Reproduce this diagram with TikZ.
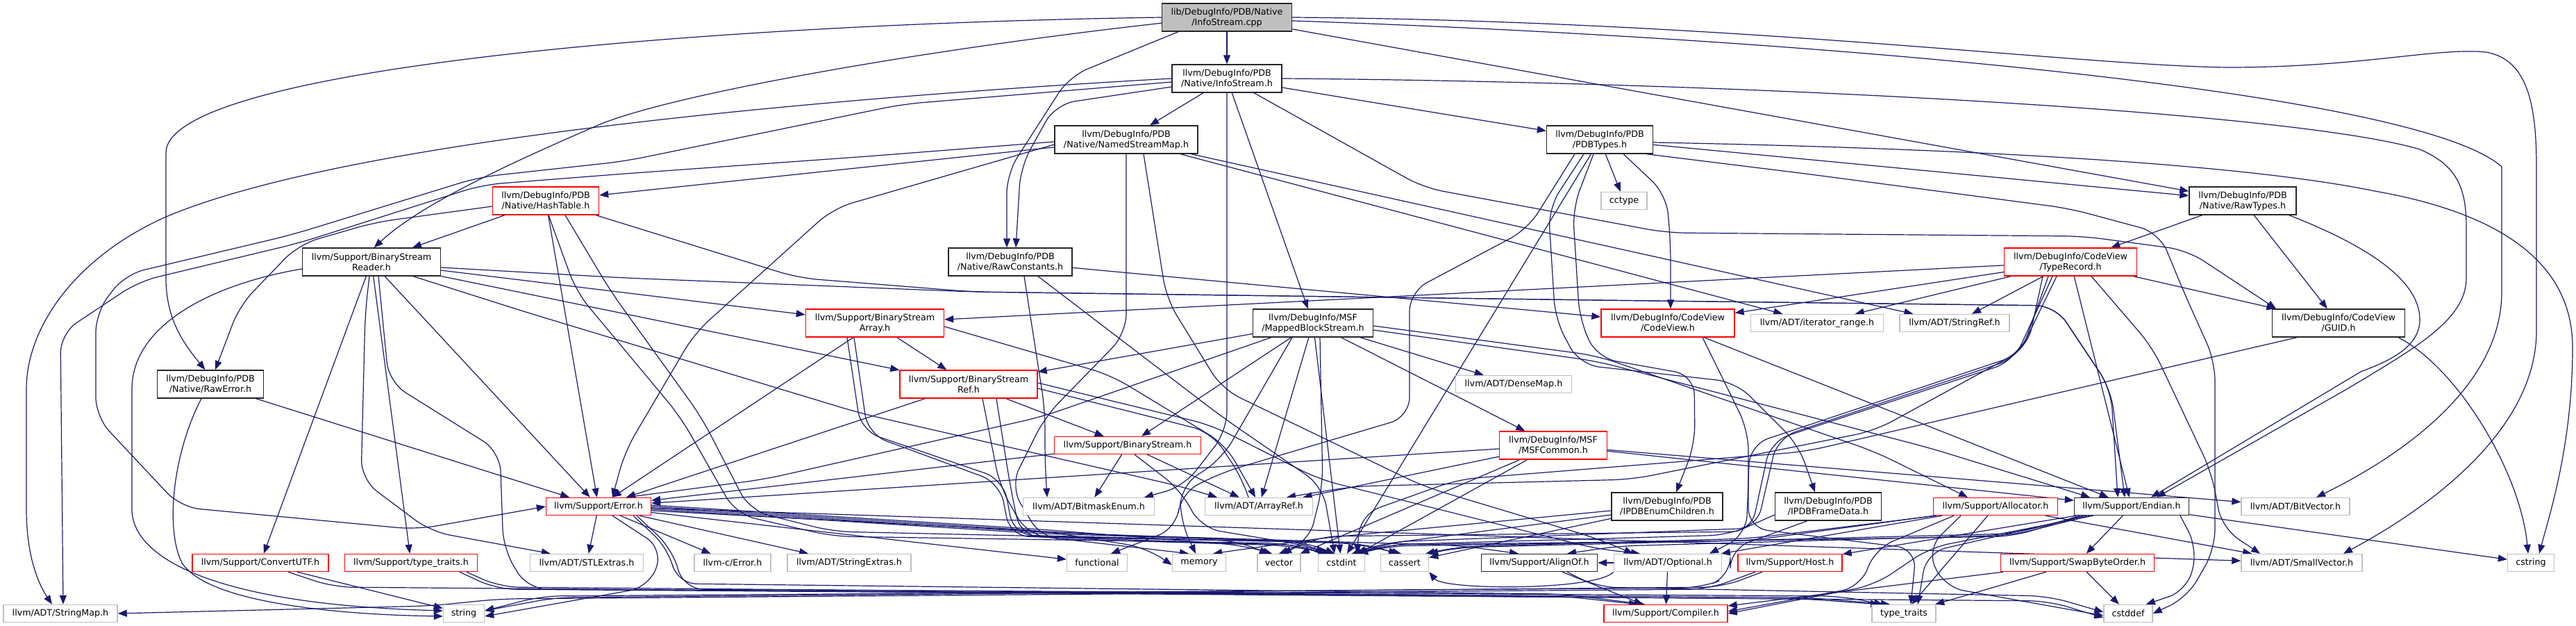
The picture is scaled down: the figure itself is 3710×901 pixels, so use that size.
\documentclass[tikz,border=0pt]{standalone}
\usepackage{fontspec}
\setmainfont{DejaVu Sans}
\usetikzlibrary{arrows.meta}
\definecolor{navy}{RGB}{25,25,112}
\definecolor{boxred}{RGB}{255,0,0}
\definecolor{boxgray}{RGB}{191,191,191}
\pgfdeclarelayer{bg}
\pgfsetlayers{bg,main}
\begin{document}
\begin{tikzpicture}[x=1pt,y=-1pt,
  base/.style={draw, fill=white, line width=1.4pt, align=center, inner sep=0pt, font=\fontsize{12.7}{15}\selectfont},
  two/.style={minimum height=40pt},
  one/.style={minimum height=25pt},
  doc/.style={base, draw=black!85},
  trn/.style={base, draw=boxred},
  ext/.style={base, draw=boxgray},
  topnode/.style={base, draw=black!85, fill=boxgray},
  edg/.style={draw=navy, line width=1.2pt, -{Triangle[length=13pt,width=10pt]}},
  rt/.style={edg, rounded corners=28pt}]
\useasboundingbox (0,0) rectangle (3710,901);
% rank 1-4
\node[topnode,two,minimum width=187pt] (root) at (1767,25) {lib/DebugInfo/PDB/Native\\/InfoStream.cpp};
\node[doc,two,minimum width=158pt] (infoh) at (1767,113) {llvm/DebugInfo/PDB\\/Native/InfoStream.h};
\node[doc,two,minimum width=206pt] (nsm) at (1622,201) {llvm/DebugInfo/PDB\\/Native/NamedStreamMap.h};
\node[doc,two,minimum width=153pt] (pdbtypes) at (2304,201) {llvm/DebugInfo/PDB\\/PDBTypes.h};
\node[trn,two,minimum width=153pt] (hashtable) at (786,289) {llvm/DebugInfo/PDB\\/Native/HashTable.h};
\node[ext,one,minimum width=66pt] (cctype) at (2339,289) {cctype};
\node[doc,two,minimum width=154pt] (rawtypes) at (3230,289) {llvm/DebugInfo/PDB\\/Native/RawTypes.h};
% rank 5
\node[doc,two,minimum width=199pt] (bsreader) at (535,377) {llvm/Support/BinaryStream\\Reader.h};
\node[doc,two,minimum width=178pt] (rawconst) at (1455,377) {llvm/DebugInfo/PDB\\/Native/RawConstants.h};
\node[trn,two,minimum width=191pt] (typerecord) at (2982,377) {llvm/DebugInfo/CodeView\\/TypeRecord.h};
% rank 6
\node[trn,two,minimum width=199pt] (bsarray) at (1260,465) {llvm/Support/BinaryStream\\Array.h};
\node[doc,two,minimum width=173pt] (mbs) at (1891,465) {llvm/DebugInfo/MSF\\/MappedBlockStream.h};
\node[trn,two,minimum width=192pt] (codeview) at (2402,465) {llvm/DebugInfo/CodeView\\/CodeView.h};
\node[ext,one,minimum width=191pt] (iterrange) at (2617,465) {llvm/ADT/iterator\_range.h};
\node[ext,one,minimum width=158pt] (stringref) at (2815,465) {llvm/ADT/StringRef.h};
\node[doc,two,minimum width=191pt] (guid) at (3368,465) {llvm/DebugInfo/CodeView\\/GUID.h};
% rank 7
\node[doc,two,minimum width=153pt] (rawerror) at (303,553) {llvm/DebugInfo/PDB\\/Native/RawError.h};
\node[trn,two,minimum width=198pt] (bsref) at (1395,553) {llvm/Support/BinaryStream\\Ref.h};
\node[ext,one,minimum width=167pt] (densemap) at (2180,553) {llvm/ADT/DenseMap.h};
% rank 8
\node[trn,one,minimum width=211pt] (bstream) at (1624,641) {llvm/Support/BinaryStream.h};
\node[trn,two,minimum width=155pt] (msfcommon) at (2237,641) {llvm/DebugInfo/MSF\\/MSFCommon.h};
% rank 9
\node[trn,one,minimum width=151pt] (error) at (862,729) {llvm/Support/Error.h};
\node[ext,one,minimum width=189pt] (bitmask) at (1568,729) {llvm/ADT/BitmaskEnum.h};
\node[ext,one,minimum width=155pt] (arrayref) at (1813,729) {llvm/ADT/ArrayRef.h};
\node[doc,two,minimum width=160pt] (enumch) at (2401,729) {llvm/DebugInfo/PDB\\/IPDBEnumChildren.h};
\node[doc,two,minimum width=153pt] (framedata) at (2633,729) {llvm/DebugInfo/PDB\\/IPDBFrameData.h};
\node[trn,one,minimum width=179pt] (allocator) at (2874,729) {llvm/Support/Allocator.h};
\node[doc,one,minimum width=165pt] (endian) at (3070,729) {llvm/Support/Endian.h};
\node[ext,one,minimum width=156pt] (bitvector) at (3306,729) {llvm/ADT/BitVector.h};
% rank 10
\node[trn,one,minimum width=196pt] (convertutf) at (375,810) {llvm/Support/ConvertUTF.h};
\node[trn,one,minimum width=191pt] (typetraitsh) at (592,810) {llvm/Support/type\_traits.h};
\node[ext,one,minimum width=163pt] (stlextras) at (845,810) {llvm/ADT/STLExtras.h};
\node[ext,one,minimum width=110pt] (cerror) at (1055,810) {llvm-c/Error.h};
\node[ext,one,minimum width=178pt] (strextras) at (1223,810) {llvm/ADT/StringExtras.h};
\node[ext,one,minimum width=87pt] (functional) at (1580,810) {functional};
\node[ext,one,minimum width=77pt] (memory) at (1727,810) {memory};
\node[ext,one,minimum width=62pt] (vector) at (1842,810) {vector};
\node[ext,one,minimum width=67pt] (cstdint) at (1932,810) {cstdint};
\node[ext,one,minimum width=69pt] (cassert) at (2023,810) {cassert};
\node[doc,one,minimum width=167pt] (alignof) at (2217,810) {llvm/Support/AlignOf.h};
\node[ext,one,minimum width=155pt] (optional) at (2402,810) {llvm/ADT/Optional.h};
\node[trn,one,minimum width=150pt] (host) at (2578,810) {llvm/Support/Host.h};
\node[trn,one,minimum width=221pt] (swap) at (2992,810) {llvm/Support/SwapByteOrder.h};
\node[ext,one,minimum width=174pt] (smallvector) at (3315,810) {llvm/ADT/SmallVector.h};
\node[ext,one,minimum width=67pt] (cstring) at (3645,810) {cstring};
% rank 11
\node[ext,one,minimum width=164pt] (stringmap) at (87,883) {llvm/ADT/StringMap.h};
\node[ext,one,minimum width=59pt] (string) at (668,883) {string};
\node[trn,one,minimum width=178pt] (compiler) at (2399,883) {llvm/Support/Compiler.h};
\node[ext,one,minimum width=92pt] (typetraits) at (2742,883) {type\_traits};
\node[ext,one,minimum width=70pt] (cstddef) at (3065,883) {cstddef};

\begin{pgfonlayer}{bg}
% direct connectors
\foreach \a/\b in {root/infoh, root/rawtypes,
  infoh/mbs, infoh/nsm, infoh/pdbtypes,
  nsm/stringref, nsm/iterrange, nsm/hashtable,
  hashtable/bsreader, hashtable/error,
  pdbtypes/rawtypes, pdbtypes/cctype, pdbtypes/cstdint,
  rawtypes/guid, rawtypes/typerecord,
  bsreader/bsarray, bsreader/bsref, bsreader/convertutf, bsreader/error, bsreader/typetraitsh,
  rawconst/codeview,
  typerecord/stringref, typerecord/iterrange, typerecord/codeview, typerecord/guid, typerecord/bsarray, typerecord/endian,
  bsarray/bsref, bsarray/error,
  mbs/arrayref, mbs/densemap, mbs/msfcommon, mbs/bstream, mbs/bsref, mbs/cstdint,
  codeview/endian, rawerror/error,
  bsref/bstream, bsref/error,
  bstream/arrayref, bstream/bitmask, bstream/error,
  msfcommon/arrayref, msfcommon/bitvector, msfcommon/endian, msfcommon/error, msfcommon/cstdint, msfcommon/vector,
  error/cerror, error/stlextras, error/strextras, error/smallvector, error/functional,
  alignof/compiler,
  allocator/optional, allocator/smallvector, allocator/typetraits,
  endian/host, endian/swap, endian/cstring,
  swap/compiler, swap/cstddef, swap/typetraits,
  optional/alignof, optional/compiler,
  convertutf/string, enumch/cassert}
  \draw[edg] (\a) -- (\b);
% root
\draw[rt] ([xshift=-70pt]root.south) -- (1540,110) -- (1450,250) -- ([xshift=-5pt]rawconst.north);
\draw[edg] (root.west) .. controls (1000,35) and (239,100) .. (239,220) -- (239,400) .. controls (239,460) and (265,495) .. (rawerror.110);
\draw[edg] (root.185) .. controls (1300,75) and (950,140) .. (857,182) .. controls (700,250) and (600,300) .. (bsreader.80);
\draw[edg] (root.357) .. controls (2600,55) and (3480,130) .. (3603,240) -- (3603,420) .. controls (3603,560) and (3450,660) .. ([xshift=30pt]bitvector.north);
\draw[edg] (root.east) .. controls (2500,30) and (3000,95) .. (3209,97) .. controls (3400,97) and (3510,68) .. (3580,75) .. controls (3640,85) and (3653,150) .. (3653,240) -- (3653,480) .. controls (3650,620) and (3500,730) .. ([xshift=60pt]smallvector.north);
% infoh
\draw[rt] ([yshift=-12pt]infoh.west) -- (1520,150) -- (1470,240) -- ([xshift=8pt]rawconst.north);
\draw[rt] (infoh.south) -- (1767,620) -- (1705,700) -- ([xshift=80pt]bitmask.north);
\draw[rt] ([xshift=39pt]infoh.south) -- (2050,270) -- (2400,335) -- (3000,340) -- (3150,360) -- ([xshift=-90pt]guid.north);
\draw[rt] ([yshift=-5pt]infoh.west) -- (1300,150) -- (900,232) -- (690,255) -- (420,338) -- (180,395) -- (138,450) -- (138,600) -- (260,730) -- (600,762) -- (error.west);
\draw[edg] (infoh.west) .. controls (1200,140) and (500,200) .. (237,313) .. controls (110,370) and (38,470) .. (38,560) -- (38,733) .. controls (38,800) and (55,840) .. ([xshift=-12pt]stringmap.north);
\draw[edg] (infoh.east) .. controls (2500,118) and (3300,160) .. (3485,215) .. controls (3545,240) and (3552,280) .. (3552,330) -- (3552,400) .. controls (3552,460) and (3480,500) .. (3380,560) -- ([xshift=36pt]endian.north);
% nsm
\draw[rt] ([yshift=-7pt]nsm.west) -- (1200,300) -- (1000,480) -- (900,650) -- ([xshift=20pt]error.north);
\draw[rt] (nsm.south) -- (1622,480) -- (1505,600) -- (1455,700) -- (1500,775) -- (1850,785) -- ([xshift=-15pt]cstdint.north);
\draw[rt] ([xshift=25pt]nsm.south) -- (1680,430) -- (1760,560) -- (2050,700) -- (2300,775) -- ([xshift=-50pt]optional.north);
\draw[rt] ([yshift=-3pt]nsm.west) -- (1250,225) -- (900,250) -- (695,266) -- (430,350) -- (200,405) -- (87,480) -- ([xshift=4pt]stringmap.north);
% hashtable
\draw[rt] ([yshift=-8pt]hashtable.west) -- (540,320) -- (430,352) -- (345,440) -- ([xshift=7pt]rawerror.north);
\draw[rt] ([xshift=-5pt]hashtable.south east) -- (1150,400) -- (1400,420) -- (2300,432) -- (2960,440) -- (3040,560) -- ([xshift=-10pt]endian.north);
\draw[rt] ([xshift=4pt]hashtable.south) -- (830,420) -- (980,600) -- (1060,740) -- (1200,772) -- (1850,782) -- ([xshift=-20pt]cstdint.north);
\draw[rt] ([xshift=28pt]hashtable.south) -- (880,420) -- (1010,600) -- (1080,735) -- (1200,765) -- (1780,778) -- ([xshift=-15pt]vector.north);
% pdbtypes
\draw[rt] ([xshift=34pt]pdbtypes.south) -- (2400,280) -- (2406,350) -- ([xshift=4pt]codeview.north);
\draw[rt] ([xshift=-9pt]pdbtypes.south) -- (2265,300) -- (2275,460) -- (2300,515) -- (2440,540) -- (2441,640) -- ([xshift=13pt]enumch.north);
\draw[rt] ([xshift=-23pt]pdbtypes.south) -- (2230,300) -- (2240,460) -- (2275,525) -- (2500,550) -- (2590,640) -- ([xshift=-19pt]framedata.north);
\draw[rt] ([xshift=-10pt]pdbtypes.south east) -- (2600,250) -- (2980,300) -- (3110,335) -- (3145,420) -- (3190,520) -- (3190,790) -- (3150,860) -- (cstddef.east);
\draw[rt] ([xshift=-36pt]pdbtypes.south) -- (2200,330) -- (2030,420) -- (2030,600) -- (1760,680) -- (1700,710) -- (1695,760) -- ([xshift=20pt]functional.north);
\draw[edg] ([yshift=-4pt]pdbtypes.east) .. controls (2900,215) and (3250,240) .. (3420,275) .. controls (3620,310) and (3705,390) .. (3705,500) .. controls (3705,640) and (3672,740) .. ([xshift=12pt]cstring.north);
% rawtypes, guid
\draw[edg] ([xshift=-11pt]rawtypes.south east) .. controls (3400,350) and (3485,400) .. (3485,460) .. controls (3485,500) and (3440,520) .. (3400,535) -- ([xshift=28pt]endian.north);
\draw[edg] ([xshift=-10pt]guid.south east) .. controls (3540,530) and (3630,680) .. ([xshift=-4pt]cstring.north);
\draw[rt] ([xshift=-60pt]guid.south) -- (2600,650) -- (2100,690) -- (1960,740) -- ([xshift=22pt]cstdint.north);
% bsreader
\draw[rt] ([xshift=60pt]bsreader.south) -- (760,450) -- (1240,595) -- (1700,700) -- ([xshift=-60pt]arrayref.north);
\draw[rt] ([xshift=-3pt]bsreader.south) -- (526,450) -- (520,690) -- (620,765) -- ([xshift=30pt]stlextras.north west);
\draw[rt] ([yshift=-8pt]bsreader.east) -- (900,400) -- (1400,420) -- (2300,432) -- (2960,440) -- (3040,560) -- ([xshift=-20pt]endian.north);
\draw[rt] ([xshift=10pt]bsreader.south) -- (560,550) -- (720,650) -- (725,790) -- (760,848) -- (2600,860) -- ([xshift=-20pt]typetraits.north);
\draw[edg] ([yshift=-10pt]bsreader.west) .. controls (300,410) and (190,470) .. (190,560) -- (190,733) .. controls (190,800) and (300,870) .. ([yshift=4pt]string.west);
\draw[edg] ([xshift=-13pt]rawerror.south) .. controls (250,650) and (237,760) .. (262,810) .. controls (300,870) and (500,885) .. ([yshift=-4pt]string.west);
% rawconst
\draw[rt] ([xshift=20pt]rawconst.south) -- (1505,590) -- (1505,665) -- ([xshift=-60pt]bitmask.north);
\draw[rt] ([xshift=40pt]rawconst.south) -- (1760,600) -- (1905,700) -- ([xshift=-10pt]cstdint.north);
% typerecord
\draw[rt] ([xshift=-40pt]typerecord.south) -- (2920,500) -- (2700,620) -- (2350,690) -- (1950,700) -- ([xshift=40pt]arrayref.north);
\draw[rt] ([xshift=-32pt]typerecord.south) -- (2910,510) -- (2520,640) -- (2515,770) -- ([xshift=60pt]optional.north);
\draw[rt] ([xshift=30pt]typerecord.south) -- (3100,500) -- (3185,680) -- (3200,760) -- ([xshift=-60pt]smallvector.north);
\draw[rt] ([xshift=-20pt]typerecord.south) -- (2905,515) -- (2560,630) -- (2530,760) -- (2000,780) -- ([xshift=15pt]cstdint.north);
\draw[rt] ([xshift=-26pt]typerecord.south) -- (2900,520) -- (2550,635) -- (2522,765) -- (1900,772) -- ([xshift=5pt]vector.north);
% bsarray
\draw[rt] ([yshift=-5pt]bsarray.east) -- (1600,540) -- (1765,640) -- ([xshift=-5pt]arrayref.north);
\draw[rt] ([xshift=-40pt]bsarray.south) -- (1240,620) -- (1445,690) -- (1460,770) -- (1950,782) -- ([xshift=-5pt]cassert.north);
\draw[rt] ([xshift=-30pt]bsarray.south) -- (1250,625) -- (1440,695) -- (1455,772) -- (1880,780) -- ([xshift=-25pt]cstdint.north);
% mbs
\draw[rt] ([yshift=-4pt]mbs.east) -- (2300,512) -- (2700,650) -- ([xshift=-40pt]allocator.north);
\draw[rt] ([yshift=-10pt]mbs.east) -- (2300,520) -- (2780,645) -- ([xshift=-60pt]endian.north);
\draw[rt] ([xshift=-60pt]mbs.south) -- (1500,600) -- (1100,690) -- ([xshift=40pt]error.north);
\draw[rt] ([xshift=-30pt]mbs.south) -- (1760,660) -- (1700,700) -- (1700,750) -- ([xshift=-5pt]memory.north);
\draw[rt] ([xshift=10pt]mbs.south) -- (1905,700) -- (1885,780) -- (vector.north);
% codeview
\draw[rt] ([xshift=50pt]codeview.south) -- (2518,620) -- (2518,760) -- (2760,790) -- ([xshift=10pt]typetraits.north);
% bsref
\draw[rt] ([yshift=-6pt]bsref.east) -- (1745,622) -- (1790,690) -- ([xshift=-15pt]arrayref.north);
\draw[rt] ([yshift=2pt]bsref.east) -- (1745,612) -- (1900,690) -- (2300,790) -- ([xshift=-40pt]optional.north);
\draw[rt] ([xshift=40pt]bsref.south) -- (1455,700) -- (1470,772) -- (1880,785) -- ([xshift=-30pt]cstdint.north);
\draw[rt] ([xshift=20pt]bsref.south) -- (1440,700) -- (1480,770) -- ([xshift=-15pt]memory.north);
% bstream
\draw[rt] ([xshift=10pt]bstream.south) -- (1700,705) -- (1730,760) -- (1880,785) -- ([xshift=-20pt]cstdint.north);
% error
\draw[rt] ([yshift=-6pt]error.east) -- (1600,770) -- (2100,785) -- ([xshift=-30pt]alignof.north);
\draw[rt] ([xshift=50pt]error.south) -- (963,790) -- (975,840) -- (2250,855) -- ([xshift=-30pt]compiler.north);
\draw[rt] ([yshift=-4pt]error.east) -- (1500,768) -- (1960,782) -- ([xshift=-10pt]cassert.north);
\draw[rt] ([yshift=-2pt]error.east) -- (1500,766) -- (1880,780) -- ([xshift=-10pt]cstdint.north);
\draw[rt] (error.east) -- (1500,764) -- (1650,788) -- ([yshift=-3pt]memory.west);
\draw[rt] ([yshift=2pt]error.east) -- (1500,762) -- (1790,785) -- ([xshift=-10pt]vector.north);
\draw[rt] ([xshift=20pt]error.south) -- (955,790) -- (935,845) -- ([yshift=-4pt]string.east);
\draw[rt] ([xshift=55pt]error.south) -- (968,790) -- (985,848) -- (2650,858) -- ([xshift=-30pt]typetraits.north);
% alignof
\draw[rt] ([xshift=40pt]alignof.south) -- (2300,845) -- (2950,858) -- ([yshift=2pt]cstddef.west);
% allocator
\draw[rt] ([xshift=-60pt]allocator.south) -- (2700,790) -- (2680,845) -- ([yshift=3pt]compiler.east);
\draw[rt] ([xshift=-85pt]allocator.south) -- (2520,775) -- (2100,787) -- ([xshift=-5pt]cassert.north east);
\draw[rt] ([xshift=-50pt]allocator.south) -- (2775,790) -- (2800,845) -- ([yshift=-3pt]cstddef.west);
\draw[rt] ([xshift=-88pt]allocator.south) -- (2520,778) -- (2000,784) -- ([xshift=20pt]cstdint.north);
% endian
\draw[rt] ([xshift=-60pt]endian.south) -- (2900,770) -- (2330,786) -- ([xshift=40pt]alignof.north);
\draw[rt] ([xshift=-55pt]endian.south) -- (2780,788) -- (2700,842) -- (compiler.east);
\draw[rt] ([xshift=-70pt]endian.south) -- (2900,768) -- (2100,788) -- (cassert.north east);
\draw[rt] ([xshift=70pt]endian.south) -- (3165,790) -- (3150,850) -- ([xshift=-10pt]cstddef.north east);
\draw[rt] ([xshift=-75pt]endian.south) -- (2900,772) -- (2000,786) -- ([xshift=25pt]cstdint.north);
\draw[rt] ([xshift=-65pt]endian.south) -- (2775,795) -- ([xshift=20pt]typetraits.north);
% host
\draw[rt] ([xshift=-40pt]host.south) -- (2480,845) -- (800,860) -- ([yshift=4pt]string.east);
\draw[rt] ([xshift=-50pt]host.south) -- (2460,848) -- (720,862) -- (620,872) -- (stringmap.east);
% optional
\draw[edg] (optional.south west) .. controls (2300,850) and (2080,850) .. (cassert.south east);
% type_traits.h
\draw[rt] ([xshift=80pt]typetraitsh.south) -- (720,845) -- (2250,858) -- ([xshift=-40pt]compiler.north);
\draw[rt] ([xshift=70pt]typetraitsh.south) -- (715,848) -- (2600,862) -- ([xshift=-35pt]typetraits.north);
% ConvertUTF
\draw[rt] ([xshift=40pt]convertutf.south) -- (480,845) -- (2950,865) -- ([yshift=-6pt]cstddef.west);
% enum children, frame data
\draw[rt] ([yshift=-12pt]enumch.west) -- (2000,782) -- ([xshift=20pt]cstdint.north);
\draw[rt] ([yshift=-6pt]enumch.west) -- (1900,775) -- ([xshift=20pt]memory.north);
\draw[rt] ([yshift=-12pt]framedata.west) -- (2490,770) -- (2000,784) -- ([xshift=25pt]cstdint.north);
\draw[rt] ([xshift=-30pt]framedata.south) -- (2492,790) -- (2492,830) -- (2450,846) -- (780,858) -- ([yshift=4pt]string.east);
\end{pgfonlayer}
\end{tikzpicture}
\end{document}
